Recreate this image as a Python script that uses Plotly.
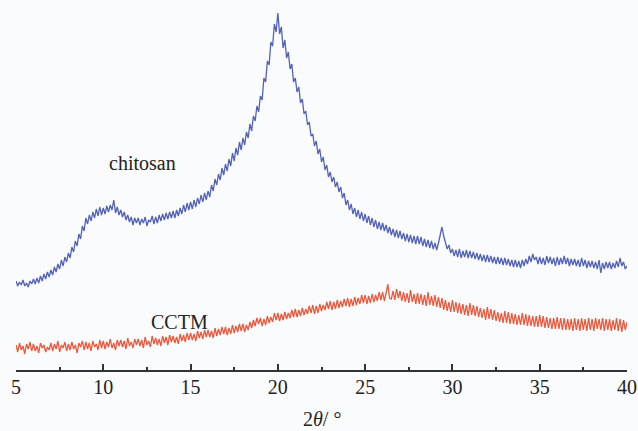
import plotly.graph_objects as go

# 2theta grid: 5.0 .. 40.0 step 0.1 (arbitrary intensity units)
two_theta = [round(5 + 0.1 * i, 1) for i in range(351)]

chitosan = [
    89, 84, 88, 85, 90, 84, 87, 83, 89, 86,
    91, 86, 92, 87, 94, 89, 96, 91, 98, 93,
    100, 95, 103, 98, 106, 101, 110, 104, 113, 108,
    117, 112, 123, 118, 129, 124, 136, 131, 144, 139,
    152, 146, 155, 149, 158, 152, 161, 154, 163, 155,
    162, 156, 164, 158, 165, 160, 170, 157, 163, 155,
    160, 153, 158, 150, 155, 148, 153, 145, 152, 147,
    152, 145, 151, 147, 153, 144, 150, 148, 154, 146,
    153, 147, 155, 149, 156, 150, 157, 151, 158, 152,
    159, 152, 160, 154, 162, 156, 165, 158, 167, 160,
    168, 161, 170, 163, 172, 166, 175, 168, 177, 170,
    179, 173, 185, 179, 191, 185, 196, 190, 202, 195,
    206, 199, 211, 204, 217, 209, 222, 215, 228, 220,
    232, 225, 238, 232, 246, 239, 254, 249, 264, 258,
    274, 270, 292, 288, 309, 305, 328, 324, 346, 338,
    357, 336, 343, 322, 330, 312, 318, 301, 306, 288,
    292, 278, 283, 267, 271, 256, 259, 245, 248, 234,
    236, 224, 229, 216, 221, 208, 213, 200, 205, 193,
    198, 188, 193, 183, 188, 178, 183, 172, 177, 165,
    170, 160, 166, 156, 162, 153, 160, 151, 158, 149,
    156, 147, 154, 145, 152, 143, 150, 141, 148, 140,
    147, 139, 145, 137, 143, 135, 141, 133, 140, 132,
    139, 131, 137, 129, 136, 128, 135, 127, 134, 126,
    134, 126, 133, 124, 131, 123, 130, 122, 129, 121,
    127, 120, 127, 136, 143, 134, 128, 121, 125, 117,
    121, 114, 120, 113, 121, 112, 119, 113, 120, 112,
    119, 112, 118, 111, 117, 110, 116, 109, 115, 108,
    115, 108, 114, 107, 113, 106, 113, 106, 112, 105,
    112, 105, 111, 104, 110, 103, 110, 103, 109, 102,
    110, 104, 111, 106, 114, 108, 116, 110, 113, 106,
    113, 106, 112, 105, 114, 107, 113, 106, 112, 104,
    113, 105, 112, 106, 114, 106, 112, 104, 111, 105,
    111, 104, 110, 103, 112, 104, 110, 102, 109, 103,
    109, 102, 108, 101, 110, 97, 107, 101, 108, 102,
    108, 101, 107, 102, 109, 103, 112, 104, 108, 101,
    104,
]

cctm = [
    25, 18, 27, 20, 24, 16, 26, 21, 28, 19,
    26, 19, 24, 17, 27, 22, 25, 18, 23, 20,
    27, 19, 26, 21, 29, 18, 25, 22, 28, 19,
    26, 20, 28, 21, 25, 17, 27, 23, 29, 20,
    28, 21, 27, 19, 29, 23, 26, 20, 30, 22,
    29, 21, 28, 23, 31, 22, 27, 20, 30, 24,
    30, 23, 29, 21, 32, 24, 28, 22, 31, 25,
    31, 24, 30, 22, 33, 25, 29, 23, 34, 26,
    32, 25, 31, 24, 34, 27, 33, 25, 35, 28,
    34, 27, 33, 26, 36, 29, 35, 28, 37, 30,
    37, 30, 36, 29, 39, 32, 38, 31, 40, 33,
    40, 33, 39, 32, 42, 34, 41, 35, 43, 36,
    43, 35, 42, 36, 45, 37, 44, 38, 46, 39,
    46, 38, 45, 40, 48, 42, 50, 44, 52, 46,
    52, 44, 51, 45, 54, 47, 53, 48, 57, 50,
    57, 49, 56, 50, 58, 51, 57, 52, 60, 53,
    61, 53, 60, 54, 62, 55, 61, 56, 64, 57,
    65, 56, 64, 57, 66, 59, 65, 60, 68, 61,
    69, 60, 68, 61, 70, 62, 69, 63, 71, 64,
    72, 63, 71, 64, 73, 65, 72, 66, 75, 67,
    75, 66, 74, 67, 76, 68, 75, 69, 78, 70,
    78, 69, 77, 86, 72, 71, 79, 70, 81, 72,
    79, 69, 78, 68, 77, 67, 80, 68, 76, 66,
    77, 66, 76, 65, 75, 64, 78, 65, 74, 64,
    75, 63, 73, 62, 72, 60, 70, 59, 68, 58,
    70, 58, 68, 57, 67, 56, 66, 55, 65, 54,
    67, 55, 65, 54, 64, 53, 62, 52, 61, 50,
    63, 51, 61, 50, 60, 49, 58, 48, 57, 47,
    59, 47, 58, 46, 57, 46, 56, 45, 55, 45,
    57, 45, 56, 44, 55, 44, 54, 43, 54, 43,
    55, 43, 54, 42, 53, 42, 52, 41, 52, 41,
    53, 41, 52, 40, 52, 40, 51, 40, 51, 39,
    52, 40, 51, 39, 52, 40, 51, 39, 52, 40,
    51, 39, 52, 41, 51, 40, 52, 39, 51, 40,
    51, 39, 50, 40, 52, 39, 51, 38, 50, 40,
    48,
]

x_ticks = [5, 10, 15, 20, 25, 30, 35, 40]
series_names = ["chitosan", "CCTM"]

BLUE = "#5262b6"
RED = "#ea5a3f"
FONT = "Liberation Serif, Times New Roman, serif"

fig = go.Figure()
fig.add_trace(go.Scatter(x=two_theta, y=chitosan, mode="lines", name=series_names[0],
                         line=dict(color=BLUE, width=1.3)))
fig.add_trace(go.Scatter(x=two_theta, y=cctm, mode="lines", name=series_names[1],
                         line=dict(color=RED, width=1.3)))

fig.add_annotation(x=12.27, y=207, text=series_names[0], showarrow=False,
                   font=dict(family=FONT, size=20, color="#222222"))
fig.add_annotation(x=14.39, y=48, text=series_names[1], showarrow=False,
                   font=dict(family=FONT, size=20, color="#222222"))
fig.add_annotation(xref="paper", yref="paper", x=0.5, y=-0.132,
                   xanchor="center", yanchor="middle",
                   text="2<i>θ</i>/ °", showarrow=False,
                   font=dict(family=FONT, size=20, color="#222222"))

fig.update_layout(
    width=638, height=431,
    margin=dict(l=16, r=11, t=0, b=61),
    paper_bgcolor="#fafbfd", plot_bgcolor="#fafbfd",
    showlegend=False,
    xaxis=dict(range=[5, 40], tickvals=x_ticks, ticktext=[str(v) for v in x_ticks],
               showgrid=False, zeroline=False, showline=True, linecolor="#333333", linewidth=1.5,
               ticks="inside", ticklen=6, tickwidth=1.5, tickcolor="#333333",
               minor=dict(dtick=2.5, ticks="inside", ticklen=3, tickwidth=1.5, tickcolor="#333333", showgrid=False),
               tickfont=dict(family=FONT, size=20, color="#222222"), ticklabelstandoff=-2),
    yaxis=dict(range=[0, 370], visible=False, showgrid=False, zeroline=False),
)

fig.write_html("out.html")
